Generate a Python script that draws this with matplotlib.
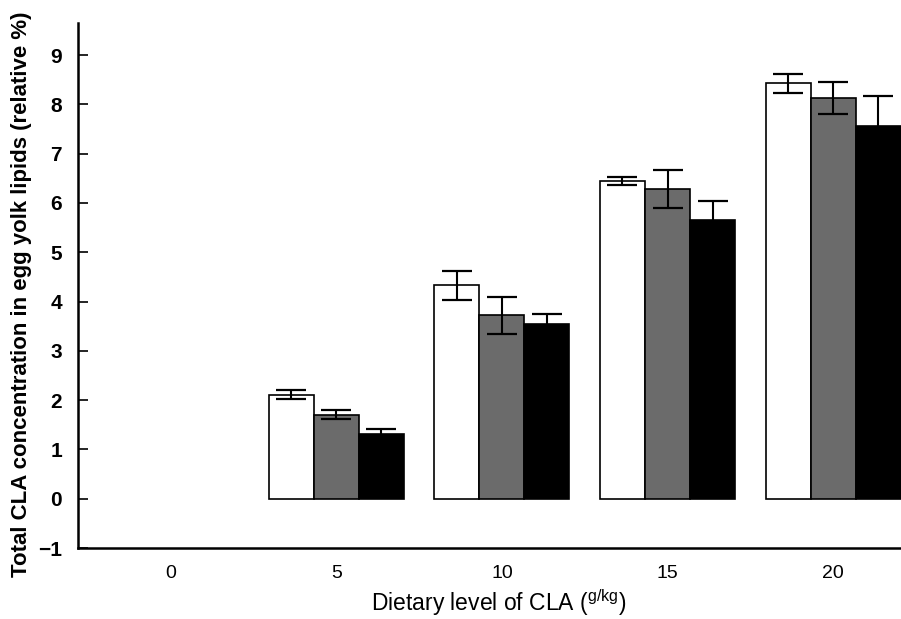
import matplotlib
matplotlib.use("Agg")
import matplotlib.pyplot as plt
import numpy as np

# dietary CLA levels (g/kg) and measured total CLA in yolk lipids (relative %)
levels = ["0", "5", "10", "15", "20"]
white_vals = [0, 2.11, 4.33, 6.44, 8.43]
white_err = [0, 0.09, 0.30, 0.08, 0.19]
gray_vals = [0, 1.70, 3.72, 6.28, 8.13]
gray_err = [0, 0.09, 0.37, 0.38, 0.33]
black_vals = [0, 1.32, 3.54, 5.65, 7.57]
black_err = [0, 0.10, 0.20, 0.40, 0.60]
yticks = [-1, 0, 1, 2, 3, 4, 5, 6, 7, 8, 9]

plt.rcParams['font.family'] = ['Liberation Sans', 'DejaVu Sans']

fig = plt.figure(figsize=(9.01, 6.19), dpi=100)
ax = fig.add_axes([0.0866, 0.1147, 0.9134, 0.848])

x = np.arange(len(levels))
w = 0.272
series = [(white_vals, white_err, "white"),
          (gray_vals, gray_err, "#6b6b6b"),
          (black_vals, black_err, "black")]

for k, (vals, errs, col) in enumerate(series):
    # level 0 has no bars
    xs = x[1:] + (k - 1) * w
    ax.bar(xs, vals[1:], width=w, color=col, edgecolor="black", linewidth=1.2, zorder=2)
    ax.errorbar(xs, vals[1:], yerr=errs[1:], fmt="none", ecolor="black",
                elinewidth=1.5, capsize=11, capthick=1.6, zorder=3)

ax.set_xlim(-0.56, 4.41)
ax.set_ylim(-1, 9.65)
ax.set_xticks(x)
ax.set_xticklabels(levels, fontsize=14)
ax.set_yticks(yticks)
ax.set_yticklabels(["\u22121"] + [str(t) for t in yticks[1:]], fontsize=15, fontweight="bold")

ax.tick_params(axis="x", length=0, pad=12.5)
ax.tick_params(axis="y", direction="in", length=7, width=1.2, pad=11.5)

for s in ["top", "right"]:
    ax.spines[s].set_visible(False)
for s in ["left", "bottom"]:
    ax.spines[s].set_linewidth(1.8)

ax.set_ylabel("Total CLA concentration in egg yolk lipids (relative %)",
              fontsize=16, fontweight="bold")
ax.yaxis.set_label_coords(-0.056, 0.484)
ax.set_xlabel(r"Dietary level of CLA ($\mathregular{^{g/kg}}$)", fontsize=16.5)
ax.xaxis.set_label_coords(0.511, -0.074)

fig.savefig("out.png", dpi=100)
